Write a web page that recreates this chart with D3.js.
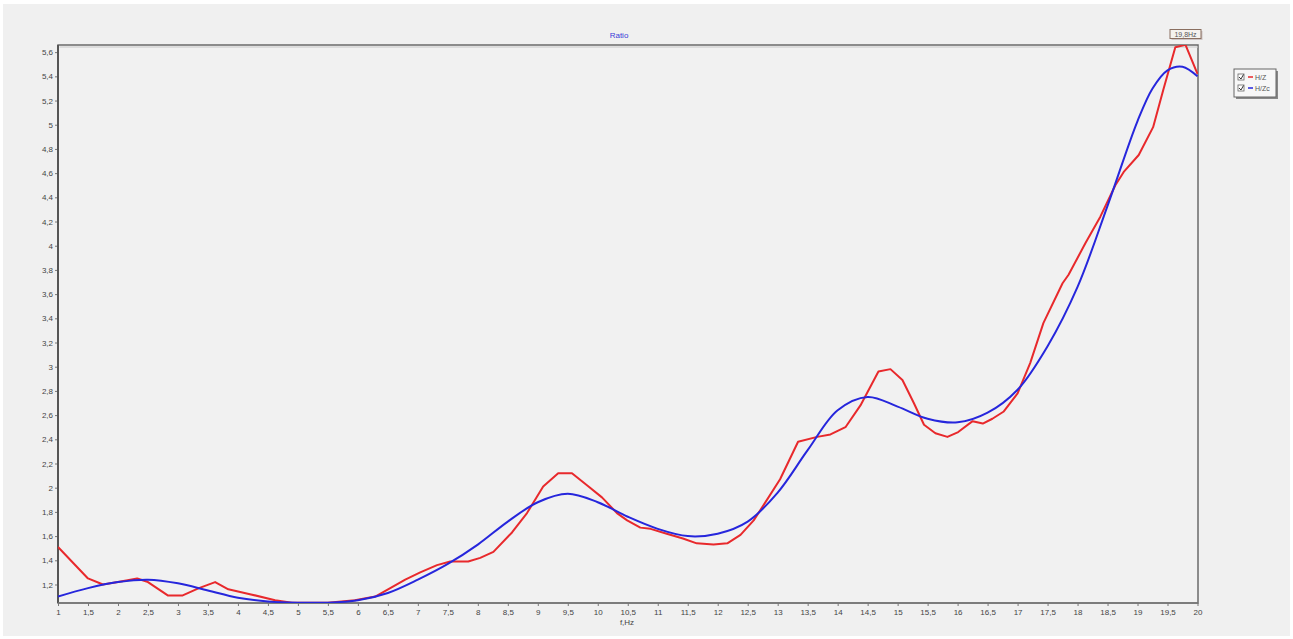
<!DOCTYPE html>
<html>
<head>
<meta charset="utf-8">
<script src="https://cdn.jsdelivr.net/npm/d3@7"></script>
<style>
  html, body { margin: 0; padding: 0; background: #ffffff; }
  svg { display: block; }
  text { font-family: "Liberation Sans", Arial, sans-serif; }
</style>
</head>
<body>
<svg id="chart" width="1293" height="639"></svg>
<script>
// H/Z spectral ratio, measured (vertices of the polyline)
const freqHZ = [1.0, 1.5, 1.75, 2.0, 2.32, 2.5, 2.83, 3.08, 3.35, 3.62, 3.84, 4.2, 4.62, 4.9, 5.5, 5.95,
  6.29, 6.79, 7.04, 7.32, 7.54, 7.84, 8.04, 8.26, 8.57, 8.82, 9.09, 9.34, 9.57, 9.82, 10.07, 10.32,
  10.49, 10.71, 10.88, 11.15, 11.42, 11.65, 11.93, 12.16, 12.38, 12.6, 12.77, 13.04, 13.34, 13.66,
  13.88, 14.13, 14.38, 14.68, 14.88, 15.08, 15.27, 15.44, 15.63, 15.83, 16.01, 16.25, 16.42, 16.58,
  16.77, 17.0, 17.21, 17.43, 17.75, 17.85, 18.13, 18.38, 18.63, 18.77, 19.02, 19.26, 19.43, 19.63,
  19.8, 20.0];
const ratioHZ = [1.51, 1.25, 1.20, 1.22, 1.25, 1.22, 1.11, 1.11, 1.17, 1.22, 1.16, 1.12, 1.07, 1.05, 1.05, 1.07,
  1.10, 1.24, 1.30, 1.36, 1.39, 1.39, 1.42, 1.47, 1.63, 1.79, 2.01, 2.12, 2.12, 2.02, 1.92, 1.79,
  1.73, 1.67, 1.66, 1.62, 1.58, 1.54, 1.53, 1.54, 1.61, 1.73, 1.86, 2.07, 2.38, 2.42,
  2.44, 2.50, 2.68, 2.96, 2.98, 2.89, 2.70, 2.52, 2.45, 2.42, 2.46, 2.55, 2.53, 2.57,
  2.63, 2.78, 3.03, 3.36, 3.69, 3.76, 4.02, 4.24, 4.50, 4.61, 4.75, 4.98, 5.29, 5.64,
  5.66, 5.42];

// H/Zc, smoothed ratio
const freqHZc = [1.0, 1.5, 2.0, 2.5, 3.0, 3.5, 4.0, 4.5, 5.0, 5.5, 6.0, 6.5, 7.0, 7.5, 8.0, 8.5, 9.0, 9.5,
  10.0, 10.5, 11.0, 11.5, 12.0, 12.5, 13.0, 13.5, 14.0, 14.5, 15.0, 15.5, 16.0, 16.5, 17.0, 17.5,
  18.0, 18.5, 19.0, 19.25, 19.5, 19.75, 20.0];
const ratioHZc = [1.10, 1.17, 1.22, 1.24, 1.21, 1.15, 1.09, 1.06, 1.05, 1.05, 1.07, 1.13, 1.24, 1.37, 1.53, 1.72, 1.88, 1.95,
  1.88, 1.76, 1.66, 1.60, 1.62, 1.72, 1.96, 2.31, 2.64, 2.75, 2.67, 2.57, 2.54, 2.62, 2.81, 3.17,
  3.66, 4.33, 5.03, 5.30, 5.45, 5.48, 5.40];

const xTicks = d3.range(1, 20.001, 0.5);
const yTicks = d3.range(1.2, 5.601, 0.2).map(v => Math.round(v * 10) / 10);
const seriesNames = ["H/Z", "H/Zc"];
const chartTitle = "Ratio";
const xTitle = "f,Hz";
const peakFreq = 19.8;

const fmt = v => String(Math.round(v * 10) / 10).replace(".", ",");

const svg = d3.select("#chart");
const W = 1293, H = 639;
const mLeft = 58, mRight = 1198, mTop = 45, mBottom = 603;

// panel background
svg.append("rect").attr("x", 3).attr("y", 4).attr("width", W - 6).attr("height", H - 7)
  .attr("fill", "#f0f0f0");

const x = d3.scaleLinear().domain([1, 20]).range([mLeft, 1197.5]);
const y = d3.scaleLinear().domain([1.047, 5.659]).range([mBottom, mTop]);

// plot area
svg.append("rect").attr("x", mLeft).attr("y", mTop).attr("width", mRight - mLeft).attr("height", mBottom - mTop)
  .attr("fill", "#f1f1f1");

svg.append("defs").append("clipPath").attr("id", "plotClip")
  .append("rect").attr("x", mLeft).attr("y", mTop).attr("width", mRight - mLeft).attr("height", mBottom - mTop);

// axes
const yAxis = d3.axisLeft(y).tickValues(yTicks).tickFormat(fmt).tickSize(3).tickPadding(2);
const gy = svg.append("g").attr("transform", `translate(${mLeft},0)`).call(yAxis);
const xAxis = d3.axisBottom(x).tickValues(xTicks).tickFormat(fmt).tickSize(3).tickPadding(3);
const gx = svg.append("g").attr("transform", `translate(0,${mBottom})`).call(xAxis);
[gx, gy].forEach(g => {
  g.select(".domain").remove();
  g.selectAll(".tick line").attr("stroke", "#777");
  g.selectAll(".tick text").attr("fill", "#444").style("font-size", "8px");
});

// frame
svg.append("rect").attr("x", mLeft).attr("y", mTop).attr("width", mRight - mLeft).attr("height", mBottom - mTop)
  .attr("fill", "none").attr("stroke", "#6a6a6a").attr("stroke-width", 1.5);
svg.append("line").attr("x1", mLeft + 1.5).attr("x2", mRight).attr("y1", mTop + 2).attr("y2", mTop + 2)
  .attr("stroke", "#c8c8c8").attr("stroke-width", 1);
svg.append("line").attr("x1", mLeft).attr("x2", mLeft).attr("y1", mTop).attr("y2", mBottom)
  .attr("stroke", "#555").attr("stroke-width", 2);
svg.append("line").attr("x1", mLeft).attr("x2", mRight).attr("y1", mBottom).attr("y2", mBottom)
  .attr("stroke", "#777").attr("stroke-width", 1.5);

// curves
const lineHZ = d3.line().x((d, i) => x(freqHZ[i])).y(d => y(d));
const lineHZc = d3.line().x((d, i) => x(freqHZc[i])).y(d => y(d)).curve(d3.curveCatmullRom.alpha(0.5));
const plot = svg.append("g").attr("clip-path", "url(#plotClip)");
plot.append("path").datum(ratioHZ).attr("d", lineHZ)
  .attr("fill", "none").attr("stroke", "#e8292c").attr("stroke-width", 2).attr("stroke-linejoin", "round");
plot.append("path").datum(ratioHZc).attr("d", lineHZc)
  .attr("fill", "none").attr("stroke", "#2626dc").attr("stroke-width", 2).attr("stroke-linejoin", "round");

// titles
svg.append("text").attr("x", 619).attr("y", 38).attr("text-anchor", "middle")
  .attr("fill", "#3b3bd8").style("font-size", "8px").text(chartTitle);
svg.append("text").attr("x", 627).attr("y", 625).attr("text-anchor", "middle")
  .attr("fill", "#444").style("font-size", "8px").text(xTitle);

// peak marker label
const px = x(peakFreq);
svg.append("rect").attr("x", px - 14).attr("y", 31).attr("width", 31).attr("height", 9)
  .attr("fill", "#a99").attr("opacity", 0.5);
svg.append("rect").attr("x", px - 15.5).attr("y", 29.5).attr("width", 31).attr("height", 9)
  .attr("fill", "#f5f2ee").attr("stroke", "#8a6f60").attr("stroke-width", 1);
svg.append("text").attr("x", px).attr("y", 37).attr("text-anchor", "middle")
  .attr("fill", "#555").style("font-size", "7px").text(fmt(peakFreq) + "Hz");

// legend
const lg = svg.append("g").attr("transform", "translate(1234,69)");
lg.append("rect").attr("x", 2).attr("y", 2).attr("width", 42).attr("height", 28).attr("fill", "#888");
lg.append("rect").attr("x", 0).attr("y", 0).attr("width", 42).attr("height", 28)
  .attr("fill", "#f7f7f7").attr("stroke", "#666").attr("stroke-width", 1);
const legColors = ["#e8292c", "#2626dc"];
seriesNames.forEach((name, i) => {
  const row = lg.append("g").attr("transform", `translate(0,${8 + i * 11})`);
  row.append("rect").attr("x", 4).attr("y", -3).attr("width", 6).attr("height", 6)
    .attr("fill", "#fff").attr("stroke", "#666").attr("stroke-width", 0.8);
  row.append("path").attr("d", "M5,0 L7,2 L9.5,-2.5").attr("fill", "none").attr("stroke", "#333").attr("stroke-width", 1);
  row.append("line").attr("x1", 14).attr("x2", 19).attr("y1", 0).attr("y2", 0)
    .attr("stroke", legColors[i]).attr("stroke-width", 1.5);
  row.append("text").attr("x", 21).attr("y", 2.5).attr("fill", "#555")
    .style("font-size", "7px").text(name);
});
</script>
</body>
</html>
